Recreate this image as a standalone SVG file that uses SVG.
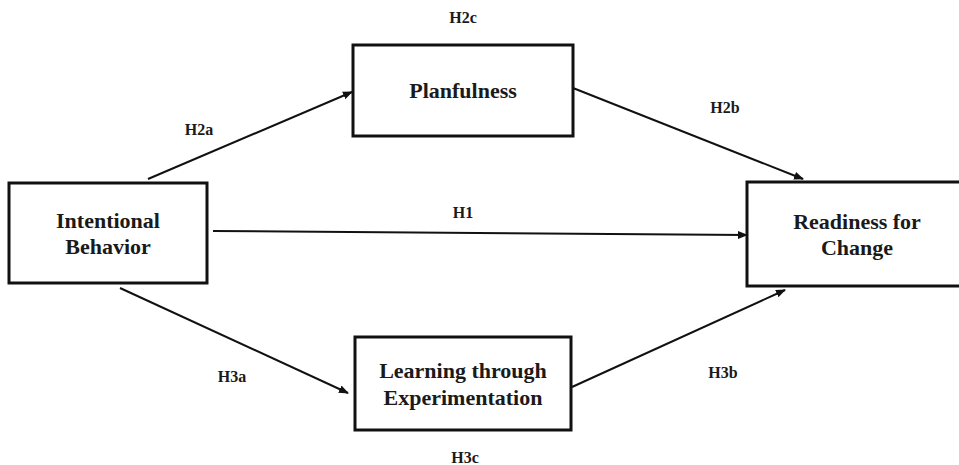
<svg xmlns="http://www.w3.org/2000/svg" width="959" height="465" viewBox="0 0 959 465">
<style>
.box{fill:#fff;stroke:#111;stroke-width:3}
text{font-family:'Liberation Serif','Times New Roman','DejaVu Serif',serif;font-weight:bold;fill:#1a1a1a;text-anchor:middle}
.t{font-size:22px}
.l{font-size:16px}
.c{stroke:#111;stroke-width:2;fill:none;marker-end:url(#ah)}
</style>
<defs>
<marker id="ah" viewBox="0 0 10 10" refX="9" refY="5" markerWidth="5" markerHeight="5" orient="auto" markerUnits="strokeWidth">
<path d="M0,1 L10,5 L0,9 z" fill="#111"/>
</marker>
</defs>
<rect width="959" height="465" fill="#fff"/>
<g id="connectors">
<line class="c" x1="148" y1="179" x2="352" y2="92"/>
<line class="c" x1="573" y1="88" x2="803" y2="179"/>
<line class="c" x1="213" y1="231" x2="747" y2="235"/>
<line class="c" x1="120" y1="288" x2="348" y2="393"/>
<line class="c" x1="572" y1="387" x2="785" y2="290"/>
</g>
<g id="intentional">
<rect class="box" x="9" y="183" width="198" height="100"/>
<text class="t" x="108" y="228" font-family="Liberation Serif">Intentional</text>
<text class="t" x="108" y="254" font-family="Liberation Serif">Behavior</text>
</g>
<g id="planfulness">
<rect class="box" x="353" y="45" width="220" height="91"/>
<text class="t" x="463" y="98" font-family="Liberation Serif">Planfulness</text>
</g>
<g id="readiness">
<rect class="box" x="747" y="182" width="220" height="104"/>
<text class="t" x="857" y="229" font-family="Liberation Serif">Readiness for</text>
<text class="t" x="857" y="255" font-family="Liberation Serif">Change</text>
</g>
<g id="learning">
<rect class="box" x="355" y="337" width="216" height="93"/>
<text class="t" x="463" y="378" font-family="Liberation Serif">Learning through</text>
<text class="t" x="463" y="405" font-family="Liberation Serif">Experimentation</text>
</g>
<g id="labels">
<text class="l" x="199" y="135" font-family="Liberation Serif">H2a</text>
<text class="l" x="725" y="113" font-family="Liberation Serif">H2b</text>
<text class="l" x="463" y="23" font-family="Liberation Serif">H2c</text>
<text class="l" x="463" y="218" font-family="Liberation Serif">H1</text>
<text class="l" x="232" y="382" font-family="Liberation Serif">H3a</text>
<text class="l" x="723" y="378" font-family="Liberation Serif">H3b</text>
<text class="l" x="465" y="463" font-family="Liberation Serif">H3c</text>
</g>
</svg>
